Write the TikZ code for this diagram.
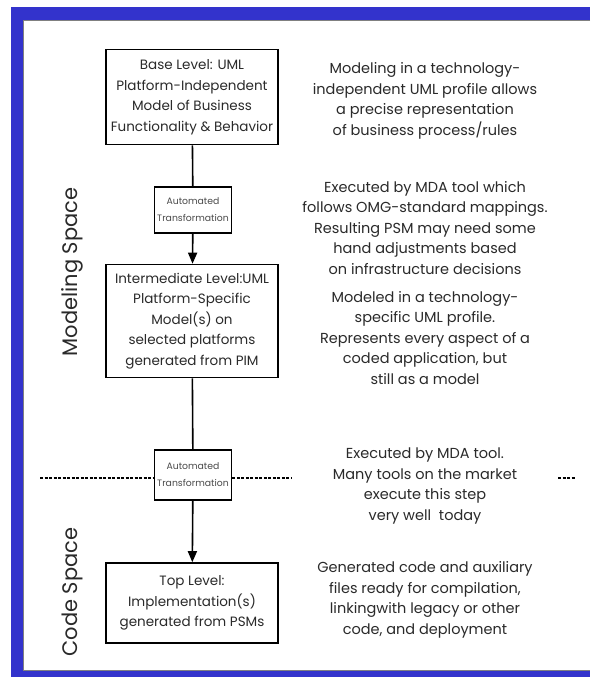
\documentclass[tikz,border=0pt]{standalone}
\usepackage{fontspec}
\setmainfont{Poppins}
\usepackage{tikz}
\usetikzlibrary{positioning, arrows, arrows.meta}
\definecolor{framebl}{HTML}{3333CC}
\definecolor{txtgray}{HTML}{2A2A2A}

\begin{document}
\begin{tikzpicture}[x=1pt,y=-1pt,
  level/.style={draw,line width=1.6pt,minimum width=172pt,align=center,
    text=txtgray,font=\fontsize{13.5}{20.5}\selectfont,inner sep=0pt},
  autobox/.style={draw,line width=1.6pt,minimum width=77pt,minimum height=46pt,
    align=center,text=txtgray!85,font=\fontsize{9.3}{17}\selectfont,inner sep=0pt},
  note/.style={align=center,text=txtgray,font=\fontsize{14.5}{20.5}\selectfont},
  spacelbl/.style={rotate=90,text=txtgray,font=\fontsize{21}{24}\selectfont},
  sep/.style={dash pattern=on 3pt off 1.5pt,line width=1.4pt},
  link/.style={line width=1.6pt},
  flow/.style={line width=1.6pt,-{Triangle[length=11pt,width=9pt]}}]
\useasboundingbox (0,0) rectangle (590,677);
% frame
\fill[framebl] (11,7) rectangle (590,677);
\fill[white] (24,21) rectangle (590,670);
\draw[gray,line width=1.5pt] (590,20.5) -- (23.5,20.5) -- (23.5,670.5) -- (590,670.5);
% levels
\node[level,minimum height=95pt] (base) at (192,97)
  {Base Level: UML\\Platform-Independent\\Model of Business\\Functionality \& Behavior};
\node[autobox] (auto1) at (193,210) {Automated\\Transformation};
\node[level,minimum height=113pt] (inter) at (192,321)
  {Intermediate Level:UML\\Platform-Specific\\Model(s) on\\selected platforms\\generated from PIM};
\node[autobox,minimum height=50pt] (auto2) at (193,475) {Automated\\Transformation};
\node[level,minimum height=80pt] (top) at (192,603)
  {Top Level:\\Implementation(s)\\generated from PSMs};
% connectors
\draw[link] (base) -- (auto1);
\draw[flow] (auto1) -- (inter);
\draw[link] (inter) -- (auto2);
\draw[flow] (auto2) -- (top);
% notes
\node[note] (n1) at (425,101)
  {Modeling in a technology-\\independent UML profile allows\\a precise representation\\of business process/rules};
\node[note] (n2) at (425,228)
  {Executed by MDA tool which\\follows OMG-standard mappings.\\Resulting PSM may need some\\hand adjustments based\\on infrastructure decisions};
\node[note] (n3) at (425,338)
  {Modeled in a technology-\\specific UML profile.\\Represents every aspect of a\\coded application, but\\still as a model};
\node[note] (n4) at (425,486)
  {Executed by MDA tool.\\Many tools on the market\\execute this step\\very well\ \ today};
\node[note] (n5) at (425,600)
  {Generated code and auxiliary\\files ready for compilation,\\linkingwith legacy or other\\code, and deployment};
% spaces
\node[spacelbl] (modsp) at (72,272) {Modeling Space};
\node[spacelbl] (codesp) at (72,592) {Code Space};
% border between spaces
\coordinate (sl) at (40,478);
\coordinate (sr) at (292,478);
\coordinate (sa) at (558,478);
\coordinate (sb) at (576,478);
\draw[sep] (sl) -- (sl-|auto2.west);
\draw[sep] (sr-|auto2.east) -- (sr);
\draw[sep] (sa) -- (sb);
\end{tikzpicture}
\end{document}
